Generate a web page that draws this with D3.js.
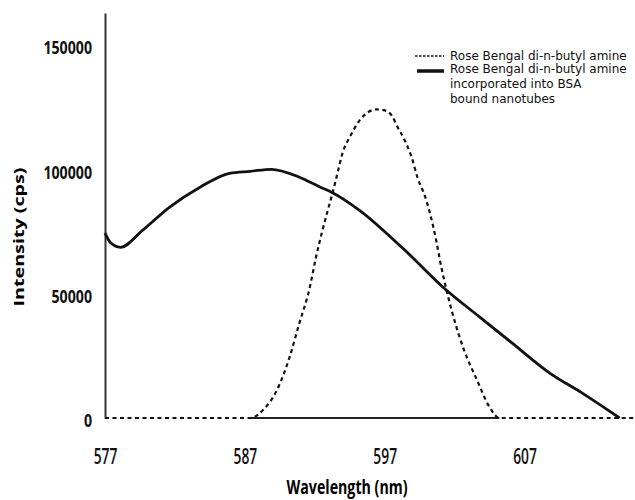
<!DOCTYPE html>
<html>
<head>
<meta charset="utf-8">
<script src="https://cdn.jsdelivr.net/npm/d3@7"></script>
<style>
    body { margin: 0; background: #fff; }
    svg { display: block; }
    .tick-y { font-family: "Open Sans", sans-serif; font-weight: bold; font-size: 17px; }
    .tick-x { font-family: "Open Sans", sans-serif; font-weight: 600; font-size: 22px; }
    .axis-title { font-family: "Open Sans", sans-serif; font-weight: bold; }
    .legend text { font-family: "DejaVu Sans", sans-serif; font-size: 12px; }
</style>
</head>
<body>
<div id="chart"></div>
<script>
// wavelength (nm) / intensity (cps)
let freeDyeX = [577, 587.4, 588.3, 589.3, 590.2, 590.9, 591.6, 592.1, 592.93, 593.29, 593.64, 594.0, 594.5,
    595.21, 595.79, 596.43, 597.0, 597.5, 597.93, 598.43, 598.93, 599.36, 599.86, 600.21, 600.7, 600.95,
    601.6, 602.6, 603.6, 604.5, 605.2, 614.9];
let freeDyeY = [0, 0, 3200, 11300, 24500, 38200, 51500, 65000, 83600, 90900, 98900, 106900, 113000,
    119800, 123000, 124200, 123800, 121800, 117000, 111800, 104900, 96500, 89600, 83000, 71000, 63500,
    47400, 28500, 15300, 4400, 0, 0];

let boundDyeX = [577, 577.4, 578.1, 579.7, 581.6, 583.8, 585.9, 587.4, 588.9, 590.9, 592.4, 593.2, 595.2,
    598.3, 601.4, 603.8, 606.1, 608.8, 611.1, 613.8];
let boundDyeY = [74400, 70500, 68700, 75600, 84800, 92900, 98500, 99300, 100100, 96900, 92900, 90900, 83600,
    68300, 51500, 40600, 30200, 18100, 10100, 0];

let xTicks = [577, 587, 597, 607];
let yTicks = [0, 50000, 100000, 150000];
let baselineSpan = [587.4, 605.2];

let legendLabels = [
    ["Rose Bengal di-n-butyl amine"],
    ["Rose Bengal di-n-butyl amine", "incorporated into BSA", "bound nanotubes"]
];

let width = 635, height = 500;

// squeeze a text to a given width (the source uses a condensed face)
function fitWidth(selection, widthFn){
    selection.each(function(d){
        let w = typeof widthFn == 'function' ? widthFn(d) : widthFn;
        d3.select(this).attr("textLength", w).attr("lengthAdjust", "spacingAndGlyphs");
    });
}

let svg = d3.select("#chart").append("svg")
    .attr("width", width)
    .attr("height", height);

let xScale = d3.scaleLinear().domain([577, 614.9]).range([105, 635]);
let yScale = d3.scaleLinear().domain([0, 163000]).range([418, 13]);

let line = d3.line()
    .x(function(d){ return xScale(d[0]); })
    .y(function(d){ return yScale(d[1]); })
    .curve(d3.curveMonotoneX);

// y axis
let yAxis = svg.append("g")
    .attr("transform", "translate(105,0)")
    .call(d3.axisLeft(yScale).tickValues(yTicks).tickSize(0).tickPadding(13).tickFormat(function(d){ return d; }));
yAxis.select(".domain").attr("stroke", "#333").attr("stroke-width", 2);
yAxis.selectAll(".tick text")
    .attr("class", "tick-y")
    .attr("fill", "#111")
    .attr("dy", "0.5em")
    .call(fitWidth, function(d){ return String(d).length * 8.1; });

// x axis labels only, the baseline line is drawn below
let xAxis = svg.append("g")
    .attr("transform", "translate(0,418)")
    .call(d3.axisBottom(xScale).tickValues(xTicks).tickSize(0).tickPadding(30).tickFormat(function(d){ return d; }));
xAxis.select(".domain").remove();
xAxis.selectAll(".tick text")
    .attr("class", "tick-x")
    .attr("fill", "#111")
    .call(fitWidth, function(d){ return String(d).length * 7.9; });

svg.append("path")
    .datum(baselineSpan.map(function(v){ return [v, 0]; }))
    .attr("d", d3.line().x(function(d){ return xScale(d[0]); }).y(function(d){ return yScale(d[1]); }))
    .attr("fill", "none")
    .attr("stroke", "#222")
    .attr("stroke-width", 2);

// curves
svg.append("path")
    .datum(freeDyeX.map(function(v, i){ return [v, freeDyeY[i]]; }))
    .attr("d", line)
    .attr("fill", "none")
    .attr("stroke", "#111")
    .attr("stroke-width", 2.2)
    .attr("stroke-dasharray", "4,3.5");

svg.append("path")
    .datum(boundDyeX.map(function(v, i){ return [v, boundDyeY[i]]; }))
    .attr("d", line)
    .attr("fill", "none")
    .attr("stroke", "#111")
    .attr("stroke-width", 2.8);

// titles
svg.append("text")
    .attr("class", "axis-title")
    .attr("x", 347)
    .attr("y", 494)
    .attr("text-anchor", "middle")
    .style("font-size", "20px")
    .text("Wavelength (nm)")
    .call(fitWidth, 121);

svg.append("text")
    .attr("class", "axis-title")
    .attr("transform", "translate(24,237) rotate(-90)")
    .attr("text-anchor", "middle")
    .style("font-size", "15px")
    .text("Intensity (cps)")
    .call(fitWidth, 139);

// legend
let legend = svg.append("g").attr("class", "legend");
legend.append("line")
    .attr("x1", 415).attr("x2", 444).attr("y1", 56).attr("y2", 56)
    .attr("stroke", "#111").attr("stroke-width", 1.3).attr("stroke-dasharray", "2.5,1.5");
legend.append("line")
    .attr("x1", 417).attr("x2", 444).attr("y1", 71).attr("y2", 71)
    .attr("stroke", "#111").attr("stroke-width", 3.5);

legend.append("text")
    .attr("x", 450).attr("y", 60)
    .attr("fill", "#111")
    .text(legendLabels[0][0]);

legend.append("text")
    .attr("x", 450).attr("y", 73)
    .attr("fill", "#111")
    .selectAll("tspan")
    .data(legendLabels[1])
    .enter().append("tspan")
    .attr("x", 450)
    .attr("dy", function(d, i){ return i == 0 ? 0 : 15; })
    .text(function(d){ return d; });
</script>
</body>
</html>
